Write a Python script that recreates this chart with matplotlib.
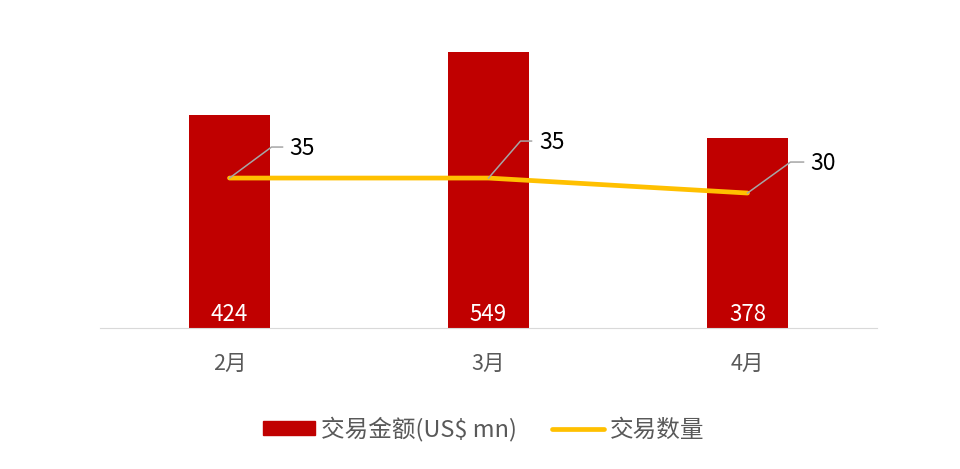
import matplotlib.pyplot as plt
import matplotlib.transforms as mtransforms
from matplotlib.patches import Patch
from matplotlib.lines import Line2D

plt.rcParams['font.family'] = ['Noto Sans CJK SC', 'DejaVu Sans']

# data
months = ['2月', '3月', '4月']
amount = [424, 549, 378]      # 交易金额 (US$ mn)
count = [35, 35, 30]          # 交易数量

bar_color = '#C00000'
line_color = '#FFC000'
text_gray = '#595959'

fig = plt.figure(figsize=(9.6, 4.69), dpi=100)
ax = fig.add_axes([100 / 960, 141 / 469, 777 / 960, 302 / 469])
ax2 = ax.twinx()

x = list(range(len(months)))
ax.bar(x, amount, width=0.315, color=bar_color, zorder=2)
ax.set_xlim(-0.5, 2.5)
ax.set_ylim(0, 600)
ax2.set_ylim(-15, 85.7)

ax2.plot(x, count, color=line_color, lw=3.4, solid_capstyle='round', zorder=3)

for a in (ax, ax2):
    for s in ['top', 'left', 'right']:
        a.spines[s].set_visible(False)
    a.set_yticks([])
ax.spines['bottom'].set_color('#D9D9D9')
ax2.spines['bottom'].set_visible(False)
ax.set_xticks(x)
ax.set_xticklabels(months, fontsize=15.5, color=text_gray)
ax.tick_params(axis='x', length=0, pad=18)

# bar value labels
for xi, v in zip(x, amount):
    ax.annotate(str(v), xy=(xi, 0), xytext=(0, 10), textcoords='offset points',
                ha='center', va='center', color='white', fontsize=16)

# line value labels with leader lines (offsets in pixels)
leaders = [((42, 31), (53, 31), (60, 30)),
           ((32, 37), (43, 37), (51, 36)),
           ((43, 31), (56, 31), (63, 30))]
for xi, v, (c, e, t) in zip(x, count, leaders):
    px, py = ax2.transData.transform((xi, v))
    fig.add_artist(Line2D([px, px + c[0], px + e[0]], [py, py + c[1], py + e[1]],
                          transform=mtransforms.IdentityTransform(),
                          color='#A6A6A6', lw=1.1, zorder=4))
    fig.text(px + t[0], py + t[1], str(v), transform=mtransforms.IdentityTransform(),
             ha='left', va='center', fontsize=16.5, color='black')

handles = [Patch(facecolor=bar_color, edgecolor=bar_color),
           Line2D([0], [0], color=line_color, lw=3.4, solid_capstyle='round')]
fig.legend(handles, ['交易金额(US$ mn)', '交易数量'], loc='center',
           bbox_to_anchor=(484 / 960, 1 - 429 / 469), ncol=2, frameon=False,
           fontsize=17, labelcolor=text_gray, handlelength=2.2,
           handleheight=0.55, handletextpad=0.25, columnspacing=1.5)

fig.savefig('out.png', dpi=100)
